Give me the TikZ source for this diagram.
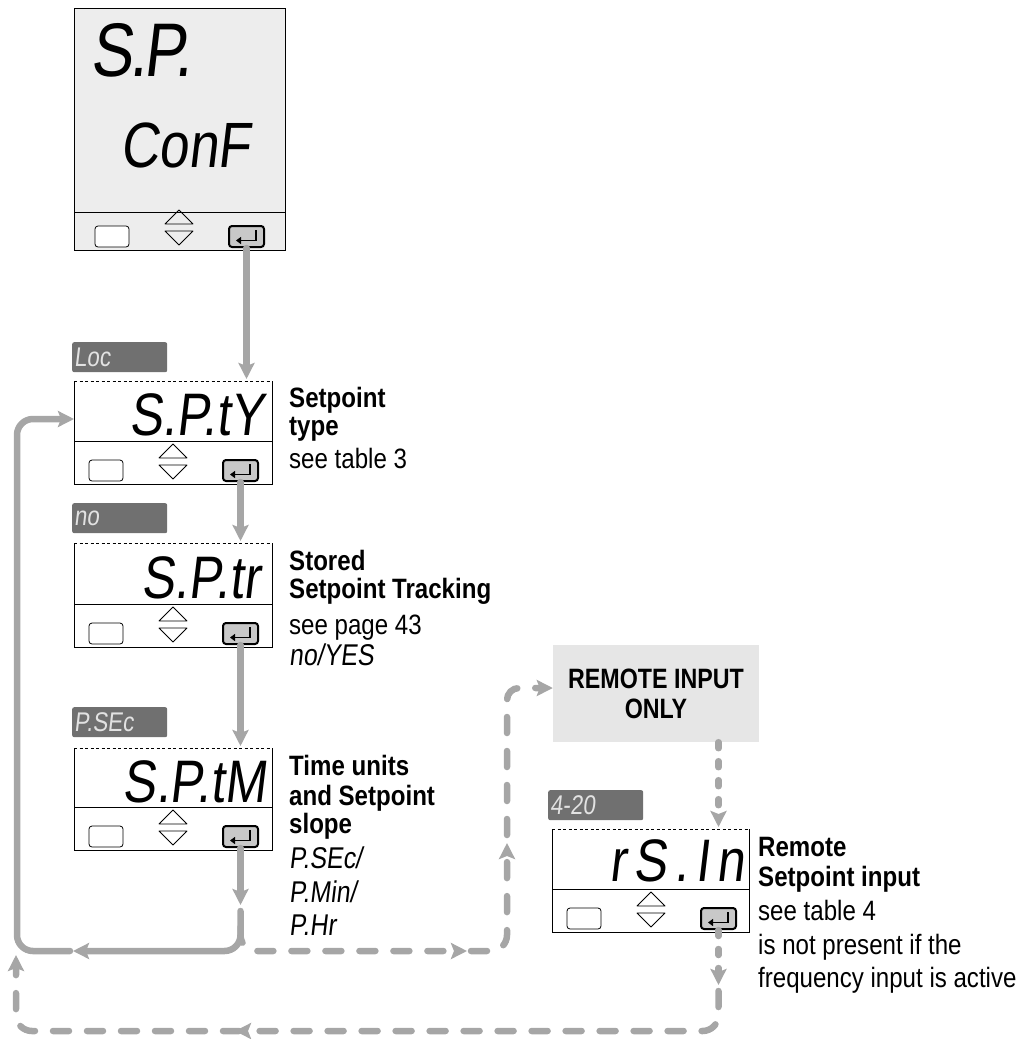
\documentclass[tikz,border=0pt]{standalone}
\usepackage{fontspec}
\setmainfont{Liberation Sans}[FakeStretch=0.86]
\newfontfamily\segfont{Liberation Sans}[FakeSlant=0.12,FakeStretch=0.83]
\newfontfamily\condfont{Liberation Sans}[FakeStretch=0.83]
\usetikzlibrary{arrows.meta,calc}
\definecolor{flowgray}{HTML}{A6A6A6}
\definecolor{topgray}{HTML}{EDEDED}
\definecolor{remgray}{HTML}{E6E6E6}
\definecolor{labgray}{HTML}{707070}
\definecolor{labtext}{HTML}{E2E2E2}
\definecolor{keygray}{HTML}{C8C8C8}
\tikzset{
  panelfill/.style={inner sep=0pt, outer sep=0pt},
  panelline/.style={line width=1pt, black},
  topdash/.style={dash pattern=on 3pt off 2.5pt},
  topsolid/.style={},
  btnL/.style={draw, line width=0.8pt, rounded corners=3pt, fill=white, minimum width=34pt, minimum height=21pt, inner sep=0pt},
  btnE/.style={draw, line width=2pt, rounded corners=3pt, fill=keygray, minimum width=35pt, minimum height=21pt, inner sep=0pt},
  tri/.style={line width=0.8pt, line join=round},
  enterarr/.style={line width=1.8pt, -{Triangle[length=5pt,width=7pt]}},
  flow/.style={draw=flowgray, line width=6.5pt, line cap=round},
  longdash/.style={dash pattern=on 16pt off 18pt},
  shortdash/.style={dash pattern=on 6pt off 13pt},
  tip/.tip={Stealth[length=16pt,width=16pt,inset=3pt]},
  lab/.style={fill=labgray, rounded corners=2pt, minimum height=30pt, text width=91pt, inner xsep=2pt, inner ysep=0pt, anchor=north west, align=left, text=labtext, font=\segfont\fontsize{27}{27}\selectfont},
  disp/.style={anchor=base east, inner sep=0pt, font=\segfont\fontsize{60}{60}\selectfont},
  desc/.style={anchor=base west, inner sep=0pt, font=\fontsize{28}{28}\selectfont},
  descb/.style={anchor=base west, inner sep=0pt, font=\bfseries\fontsize{28}{28}\selectfont},
  segd/.style={anchor=base west, inner sep=0pt, font=\segfont\fontsize{30}{30}\selectfont},
  remote/.style={fill=remgray, minimum width=206pt, minimum height=97pt, inner sep=0pt, align=center, font=\condfont\bfseries\fontsize{28}{30}\selectfont}
}
% name, left, top, width, height, divider height, button x shift, top edge style, fill
\newcommand\mkpanel[9]{%
  \node[panelfill, fill=#9, minimum width=#4pt, minimum height=#5pt, anchor=north west] (#1) at (#2,#3) {};
  \draw[panelline] (#1.north east) -- (#1.south east) -- (#1.south west) -- (#1.north west);
  \draw[panelline,#8] (#1.north west) -- (#1.north east);
  \draw[panelline] ($(#1.south west)+(0,-#6)$) -- ($(#1.south east)+(0,-#6)$);
  \begin{scope}[shift={(#1.south west)}, xshift=#7pt]
    \node[btnL] (#1-m) at (32,-13.5) {};
    \draw[tri] (85,-26) -- (99,-40) -- (113,-26) -- cycle;
    \draw[tri] (85,-19) -- (113,-19) -- (99,-5) -- cycle;
    \node[btnE] (#1-e) at (166.5,-13.5) {};
    \draw[enterarr] (176,-20) -- (176,-9.5) -- (156,-9.5);
  \end{scope}}
\begin{document}
\begin{tikzpicture}[x=1pt,y=-1pt]
\useasboundingbox (0,0) rectangle (1017,1039);

% panels
\mkpanel{top}{74}{8}{211}{242}{38}{6}{topsolid}{topgray}
\mkpanel{spty}{74}{381}{198}{103}{43}{0}{topdash}{white}
\mkpanel{sptr}{74}{543}{198}{104}{43}{0}{topdash}{white}
\mkpanel{sptm}{74}{748}{198}{102}{43}{0}{topdash}{white}
\mkpanel{rsin}{552}{829}{197}{103}{43}{0}{topdash}{white}

% display texts
\node[anchor=base west, inner sep=0pt, font=\segfont\fontsize{76}{76}\selectfont\addfontfeatures{LetterSpace=-4}] (tsp) at (90,76) {S.P.};
\node[anchor=base west, inner sep=0pt, font=\segfont\fontsize{64}{64}\selectfont] (tconf) at (120,167) {ConF};
\node[disp] (dspty) at (264,435) {S.P.tY};
\node[disp] (dsptr) at (260,598) {S.P.tr};
\node[disp] (dsptm) at (266,802) {S.P.tM};
\node[disp, font=\segfont\fontsize{60}{60}\selectfont\addfontfeatures{LetterSpace=12}] (drsin) at (744,881) {rS.In};

% labels
\node[lab] (lloc) at (72,342) {Loc};
\node[lab] (lno) at (72,503) {no};
\node[lab] (lpsec) at (72,707) {P.SEc};
\node[lab] (l420) at (548,790) {4-20};

% remote box
\node[remote] (remote) at (656,693.5) {REMOTE INPUT\\ONLY};

% descriptions
\node[descb] (t1a) at (289,407) {Setpoint};
\node[descb] (t1b) at (289,435) {type};
\node[desc] (t1c) at (289,468) {see table 3};
\node[descb] (t2a) at (289,570) {Stored};
\node[descb] (t2b) at (289,598) {Setpoint Tracking};
\node[desc] (t2c) at (289,634) {see page 43};
\node[segd] (t2d) at (289,665) {no/YES};
\node[descb] (t3a) at (289,775) {Time units};
\node[descb] (t3b) at (289,805) {and Setpoint};
\node[descb] (t3c) at (289,833) {slope};
\node[segd] (t3d) at (289,868) {P.SEc/};
\node[segd] (t3e) at (289,902) {P.Min/};
\node[segd] (t3f) at (289,935) {P.Hr};
\node[descb] (t4a) at (758,856) {Remote};
\node[descb] (t4b) at (758,886) {Setpoint input};
\node[desc] (t4c) at (758,920) {see table 4};
\node[desc] (t4d) at (758,954) {is not present if the};
\node[desc] (t4e) at (758,987) {frequency input is active};

% coordinates
\coordinate (J) at (sptm-e.south |- 0,905);
\coordinate (m1) at (73,951);
\coordinate (m2) at (467,951);
\coordinate (m3) at (507,843);
\coordinate (m4) at (rsin-e.south |- 0,985);
\coordinate (m5) at (235,1031);
\coordinate (m6) at (16,955);

% solid main flow
\draw[flow,-tip] (top-e.south) -- ([yshift=2pt]spty.north -| top-e.south);
\draw[flow,-tip] (spty-e.south) -- ([yshift=2pt]sptr.north -| spty-e.south);
\draw[flow,-tip] (sptr-e.south) -- ([yshift=2pt]sptm.north -| sptr-e.south);
\draw[flow,-tip] (sptm-e.south) -- (J);
\draw[flow,rounded corners=16pt,-tip] ($(J)+(0,6)$) -- (J |- m1) -- (m1);
\draw[flow,rounded corners=16pt,-tip] ($(m1)+(-3,0)$) -- (17,951) -- (17,419) -- (spty.west |- 0,419);

% dashed remote branch
\draw[flow,longdash,rounded corners=16pt,-tip] ($(J)+(0,22)$) -- (J |- m2) -- (m2);
\draw[flow,longdash,rounded corners=16pt,-tip] ($(m2)+(4,0)$) -- (507,951) -- (m3);
\draw[flow,longdash,rounded corners=12pt,-tip] ($(m3)+(0,-8)$) -- (507,688) -- (remote.west |- 0,688);
\draw[flow,shortdash,-tip] (remote.south -| rsin-e.south) -- ([yshift=2pt]rsin.north -| rsin-e.south);
\draw[flow,shortdash,-tip] (rsin-e.south) -- (m4);
\draw[flow,longdash,rounded corners=16pt,-tip] ($(m4)+(0,6)$) -- (rsin-e.south |- 0,1031) -- (m5);
\draw[flow,longdash,rounded corners=16pt,-tip] ($(m5)+(4,0)$) -- (16,1031) -- (m6);
\end{tikzpicture}
\end{document}
